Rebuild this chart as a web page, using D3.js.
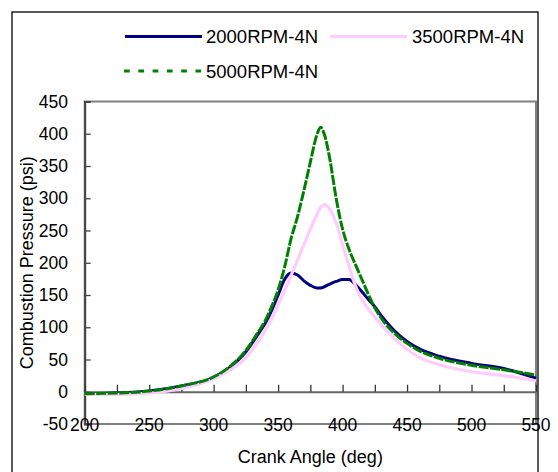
<!DOCTYPE html>
<html>
<head>
<meta charset="utf-8">
<script src="https://cdn.jsdelivr.net/npm/d3@7"></script>
<style>
  body { margin: 0; background: #fff; }
  text { font-family: "Liberation Sans", Arial, sans-serif; fill: #000; }
</style>
</head>
<body>
<div id="chart"></div>
<script>
// crank angle (deg)
const crankAngle = [200,225,250,275,300,312,325,335,340,345,350,355,360,365,370,375,380,383,386,390,395,400,405,410,415,420,425,430,440,450,460,475,500,525,550]
// combustion pressure (psi)
const rpm2000 = [-3,-2,1,9,22,37,62,91,106,126,150,174,184,181,172,165,161,161,163,167,171,174,174,166,155,143,132,118,95,78,66,55,44,36,21]
const rpm3500 = [-4,-4,-2,5,20,33,53,80,95,113,135,157,180,204,228,252,274,286,290,283,262,228,195,164,143,128,116,104,83,66,53,42,31,25,17]
const rpm5000 = [-3,-2,1,9,23,38,64,94,110,132,158,193,237,271,312,356,398,410,398,362,300,252,221,197,174,151,130,114,91,75,63,52,41,34,26]

const seriesNames = ['2000RPM-4N','3500RPM-4N','5000RPM-4N']
const yTicks = [-50,0,50,100,150,200,250,300,350,400,450]
const xLabelTicks = [200,250,300,350,400,450,500,550]
const xMinorTicks = d3.range(200, 551, 25)

const W = 558, H = 472
const plotL = 84.7, plotR = 536, plotT = 101.5, plotB = 424

let svg = d3.select('#chart').append('svg')
  .attr('width', W).attr('height', H)

// outer chart border
svg.append('rect')
  .attr('x', 12).attr('y', 12).attr('width', 526).attr('height', 480)
  .attr('fill', 'none').attr('stroke', '#000').attr('stroke-width', 1.3)

let x = d3.scaleLinear().domain([200, 550]).range([plotL, plotR])
let y = d3.scaleLinear().domain([-50, 450]).range([plotB, plotT])

// plot area border (gray)
svg.append('rect')
  .attr('x', plotL).attr('y', plotT).attr('width', plotR - plotL).attr('height', plotB - plotT)
  .attr('fill', 'none').attr('stroke', '#808080').attr('stroke-width', 2)

// y axis
let yAxis = svg.append('g').attr('transform', `translate(${plotL},0)`)
  .call(d3.axisRight(y).tickValues(yTicks).tickSize(6).tickFormat(''))
yAxis.select('.domain').attr('stroke', '#444').attr('stroke-width', 2)
yAxis.selectAll('.tick line').attr('stroke', '#444').attr('stroke-width', 1.3)

svg.append('g').selectAll('text')
  .data(yTicks).enter().append('text')
  .attr('x', 68).attr('y', d => y(d) + 6)
  .attr('text-anchor', 'end')
  .style('font-size', '17.5px')
  .text(d => d)

// x axis crossing at 0
let xAxis = svg.append('g').attr('transform', `translate(0,${y(0)})`)
  .call(d3.axisTop(x).tickValues(xMinorTicks).tickSize(7).tickSizeOuter(0).tickFormat(''))
xAxis.select('.domain').attr('stroke', '#666').attr('stroke-width', 2)
xAxis.selectAll('.tick line').attr('stroke', '#333').attr('stroke-width', 1.3)

svg.append('g').selectAll('text')
  .data(xLabelTicks).enter().append('text')
  .attr('x', d => x(d)).attr('y', plotB + 7)
  .attr('text-anchor', 'middle')
  .style('font-size', '17.5px')
  .text(d => d)

// axis titles
svg.append('text')
  .attr('x', (plotL + plotR) / 2).attr('y', 463)
  .attr('text-anchor', 'middle')
  .style('font-size', '18px')
  .text('Crank Angle (deg)')

svg.append('text')
  .attr('transform', `translate(33,${(plotT + plotB) / 2}) rotate(-90)`)
  .attr('text-anchor', 'middle')
  .style('font-size', '18px')
  .text('Combustion Pressure (psi)')

// series
const series = [
  {name: seriesNames[0], values: rpm2000, color: '#000080', width: 3, dash: null},
  {name: seriesNames[1], values: rpm3500, color: '#ffccff', width: 3.2, dash: null},
  {name: seriesNames[2], values: rpm5000, color: '#008000', width: 3, dash: '10,1.5'}
]

let line = d3.line()
  .x((d, i) => x(crankAngle[i]))
  .y(d => y(d))
  .curve(d3.curveMonotoneX)

svg.append('g').selectAll('path')
  .data(series).enter().append('path')
  .attr('d', d => line(d.values))
  .attr('fill', 'none')
  .attr('stroke', d => d.color)
  .attr('stroke-width', d => d.width)
  .attr('stroke-dasharray', d => d.dash)
  .attr('stroke-linejoin', 'round')

// legend
const legendPos = [
  {lx: 125, ly: 36.5, tx: 81},
  {lx: 330, ly: 36.5, tx: 82},
  {lx: 124, ly: 71, tx: 82}
]
let legend = svg.append('g').selectAll('g')
  .data(series).enter().append('g')
  .attr('transform', (d, i) => `translate(${legendPos[i].lx},${legendPos[i].ly})`)

legend.append('line')
  .attr('x1', 0).attr('x2', (d, i) => i == 1 ? 77 : 77)
  .attr('stroke', d => d.color)
  .attr('stroke-width', 3)
  .attr('stroke-dasharray', (d, i) => i == 2 ? '5.7,8.6' : null)

legend.append('text')
  .attr('x', (d, i) => legendPos[i].tx)
  .attr('y', 6.5)
  .style('font-size', '18.5px')
  .text(d => d.name)
</script>
</body>
</html>
